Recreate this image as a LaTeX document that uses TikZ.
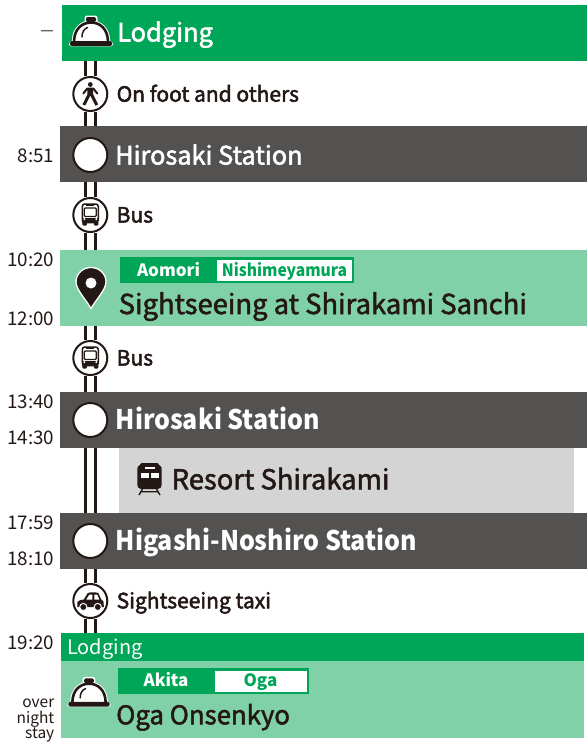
\documentclass[tikz,border=0pt]{standalone}
\usepackage{fontspec}
\setmainfont{Noto Sans CJK JP}
\newcommand{\emb}[2]{\special{pdf:code 2 Tr #1 w}#2\special{pdf:code 0 Tr 0.4 w}}
\newcommand{\med}[1]{\emb{0.5}{#1}}
\definecolor{ink}{HTML}{231815}
\definecolor{gr}{HTML}{00A657}
\definecolor{lgr}{HTML}{80D1A8}
\definecolor{dk}{HTML}{535251}
\definecolor{lg}{HTML}{D4D4D4}
\tikzset{
  band/.style={anchor=north west,inner sep=0pt,outer sep=0pt,draw=none},
  stopc/.style={circle,draw=ink,line width=2pt,fill=white,minimum size=34pt,inner sep=0pt,outer sep=1pt},
  rail/.style={draw=ink,line width=3pt,double=white,double distance=7.2pt},
  tm/.style={anchor=base east,inner sep=0pt,text=ink,font=\fontsize{18.8}{19}\selectfont},
  tms/.style={tm,font=\fontsize{15.5}{16}\selectfont},
  lbl/.style={anchor=base west,inner sep=0pt,text=ink,font=\fontsize{21}{22}\selectfont},
  big/.style={anchor=base west,inner sep=0pt,text=ink,font=\fontsize{27.4}{28}\selectfont},
  wtxt/.style={anchor=base west,inner sep=0pt,text=white},
  heavyt/.style={wtxt,xscale=0.927,font=\bfseries\fontsize{27}{28}\selectfont},
  tagt/.style={anchor=base,inner sep=0pt,font=\bfseries\fontsize{17}{18}\selectfont},
  icn/.style={fill=ink,draw=none}
}
\newcommand{\bellicon}[3]{%
\begin{scope}[shift={(#1,#2)},scale=#3]
 \path[draw=white,line width=4.5pt,line join=round,fill=white] (-20,12) -- (-17,10) .. controls (-17,-3) and (-9,-9.5) .. (0,-9.5) .. controls (9,-9.5) and (17,-3) .. (17,10) -- (20,12) -- (-20,12) -- cycle;
 \fill[white,rounded corners=2.5pt] (-6.5,-16.5) rectangle (6.5,-8);
 \fill[ink,rounded corners=2pt] (-5,-15) rectangle (5,-10);
 \draw[ink,line width=2.6pt,fill=white] (-17,10) .. controls (-17,-3) and (-9,-9.5) .. (0,-9.5) .. controls (9,-9.5) and (17,-3) .. (17,10);
 \fill[ink,rounded corners=2pt] (-21,9) rectangle (21,14);
 \draw[ink,line width=1.5pt,line cap=round] (-9,5) .. controls (-9,0) and (-7,-3) .. (-3.5,-4.5);
\end{scope}}
\newcommand{\busicon}[2]{%
\begin{scope}[shift={(#1,#2)}]
 \draw[ink,line width=1.5pt,rounded corners=2.5pt,fill=white] (-8,-10.5) rectangle (8,8);
 \draw[ink,line width=1.3pt,rounded corners=1pt] (-6,-6.5) rectangle (6,2);
 \fill[ink] (-8,3) rectangle (8,8);
 \fill[ink,rounded corners=1pt] (-8,7) rectangle (-3.5,11);
 \fill[ink,rounded corners=1pt] (3.5,7) rectangle (8,11);
 \fill[white] (-6,4.6) circle (1.1) (6,4.6) circle (1.1);
 \fill[ink] (-4,-9.6) rectangle (4,-8.4);
\end{scope}}
\begin{document}
\begin{tikzpicture}[x=1pt,y=-1pt]
\useasboundingbox (0,0) rectangle (587,744);
\fill[white] (0,0) rectangle (587,744);
% bands
\node[band,fill=gr,minimum width=525pt,minimum height=56pt] (lodgeA) at (62,5) {};
\node[band,fill=dk,minimum width=527pt,minimum height=56pt] (hiroA) at (60,126) {};
\node[band,fill=lgr,minimum width=527pt,minimum height=76pt] (sight) at (60,250) {};
\node[band,fill=dk,minimum width=527pt,minimum height=56pt] (hiroB) at (60,392) {};
\node[band,fill=lg,minimum width=455pt,minimum height=65pt] (resort) at (119,448) {};
\node[band,fill=dk,minimum width=527pt,minimum height=56pt] (higa) at (60,513) {};
\node[band,fill=gr,minimum width=523pt,minimum height=28pt] (lodgeB) at (61,633) {};
\node[band,fill=lgr,minimum width=523pt,minimum height=77pt] (oga) at (61,661) {};
% stops and mode circles
\node[stopc] (foot) at (90.3,94) {};
\node[stopc] (stA) at (90.3,155) {};
\node[stopc] (busA) at (90.3,215) {};
\node[stopc] (busB) at (90.3,358) {};
\node[stopc] (stB) at (90.3,420) {};
\node[stopc] (stC) at (90.3,541) {};
\node[stopc] (taxi) at (90.3,601) {};
% rails
\draw[rail] (foot.north |- lodgeA.south) -- (foot.north);
\draw[rail] (foot.south) -- (foot.south |- hiroA.north);
\draw[rail] (busA.north |- hiroA.south) -- (busA.north);
\draw[rail] (busA.south) -- (busA.south |- sight.north);
\draw[rail] (busB.north |- sight.south) -- (busB.north);
\draw[rail] (busB.south) -- (busB.south |- hiroB.north);
\draw[rail] (stB.south |- hiroB.south) -- (stC.north |- higa.north);
\draw[rail] (taxi.north |- higa.south) -- (taxi.north);
\draw[rail] (taxi.south) -- (taxi.south |- lodgeB.north);
% icons
\bellicon{91}{32}{1}
\bellicon{89}{693}{0.98}
\begin{scope}[shift={(90.3,94)}]
 \fill[ink] (0,-9.5) circle (2.4);
 \draw[ink,line width=2pt,line cap=round,line join=round] (-7,-0.5) -- (-3,-5.5) -- (3,-5.5) -- (7,-0.5);
 \draw[ink,line width=3pt,line join=round] (-6.5,11) -- (-1.4,1) -- (-1.4,-5.5) (1.4,-5.5) -- (1.4,1) -- (6.5,11);
\end{scope}
\busicon{90.3}{214.5}
\busicon{90.3}{357.5}
\begin{scope}[shift={(90.3,601)}]
 \fill[ink] (-13,6) -- (-13,1) .. controls (-12,-1) and (-9,-1) .. (-6.5,-1.5) -- (-2.5,-8) .. controls (0,-9) and (5,-9) .. (8,-8) -- (11,-1.5) .. controls (13,-1) and (13.5,0) .. (13.5,6) -- cycle;
 \fill[white] (-4,-1.5) -- (-1,-6.3) -- (2,-6.3) -- (2,-1.5) -- cycle;
 \fill[white] (4,-1.5) -- (4,-6.3) -- (7,-6.3) -- (9,-1.5) -- cycle;
 \draw[ink,fill=ink,line width=1pt,draw=white] (-7,6) circle (3.6) (7.5,6) circle (3.6);
\end{scope}
\begin{scope}[shift={(91,283)}]
 \path[fill=ink,draw=white,line width=1.3pt,line join=round] (0,25.8) .. controls (-3,19) and (-15,7) .. (-15,-1) .. controls (-15,-9.5) and (-8,-15.5) .. (0,-15.5) .. controls (8,-15.5) and (15,-9.5) .. (15,-1) .. controls (15,7) and (3,19) .. (0,25.8) -- cycle;
 \fill[white] (0,0) circle (5.5);
\end{scope}
\begin{scope}[shift={(149.5,479)}]
 \fill[ink,rounded corners=4pt] (-12.2,-14) rectangle (12.2,10);
 \fill[ink] (-8,-16) -- (8,-16) -- (12.2,-11) -- (-12.2,-11) -- cycle;
 \fill[white] (-5,-12.3) rectangle (5,-10);
 \fill[white] (-8.8,-6.3) rectangle (-0.3,-1);
 \fill[white] (1.2,-6.3) rectangle (9.8,-1);
 \draw[ink,line width=1.4pt] (-7,10) -- (-10.5,16) (7,10) -- (10.5,16) (-8.5,12.7) -- (8.5,12.7);
\end{scope}
% tags
\fill[gr] (120,257) rectangle (354,283);
\fill[white] (217,259.5) rectangle (352,280.5);
\node[tagt,text=white] (tagA) at (168.5,276) {Aomori};
\node[tagt,text=gr,xscale=0.92] (tagB) at (284.5,276) {Nishimeyamura};
\fill[gr] (118,668) rectangle (309,694);
\fill[white] (215,670.5) rectangle (306.5,691.5);
\node[tagt,text=white] (tagC) at (166,686.7) {Akita};
\node[tagt,text=gr] (tagD) at (260.5,686.7) {Oga};
% texts
\node[wtxt,font=\fontsize{25.4}{28}\selectfont] (tLodge) at (117,41.5) {\med{Lodging}};
\node[lbl] (tFoot) at (116.5,101.7) {\med{On foot and others}};
\node[wtxt,font=\fontsize{25.3}{28}\selectfont] (tHiroA) at (115,164.5) {\med{Hirosaki Station}};
\node[lbl] (tBusA) at (116.5,222.5) {\med{Bus}};
\node[big] (tSight) at (118.5,314) {\med{Sightseeing at Shirakami Sanchi}};
\node[lbl] (tBusB) at (116.5,365.5) {\med{Bus}};
\node[heavyt] (tHiroB) at (115.5,429.3) {Hirosaki Station};
\node[big] (tResort) at (171.5,489.3) {\med{Resort Shirakami}};
\node[heavyt] (tHiga) at (115.5,550.3) {Higashi-Noshiro Station};
\node[lbl] (tTaxi) at (116.5,608.3) {\med{Sightseeing taxi}};
\node[wtxt,font=\fontsize{20}{22}\selectfont] (tLodgeB) at (67,654) {Lodging};
\node[big,font=\fontsize{25.8}{28}\selectfont] (tOga) at (116,724.3) {\med{Oga Onsenkyo}};
% times
\node[anchor=east,inner sep=0pt,text=ink,font=\fontsize{15}{16}\selectfont] (t0) at (54,33.5) {—};
\node[tm] (t1) at (54.6,162.3) {8:51};
\node[tm] (t2) at (54.6,266) {10:20};
\node[tm] (t3) at (54.6,325) {12:00};
\node[tm] (t4) at (54.6,408.3) {13:40};
\node[tm] (t5) at (54.6,444) {14:30};
\node[tm] (t6) at (54.6,529) {17:59};
\node[tm] (t7) at (54.6,565) {18:10};
\node[tm] (t8) at (54.6,649) {19:20};
\node[tms] (t9) at (54.5,707) {over};
\node[tms] (t10) at (54.5,723) {night};
\node[tms] (t11) at (54.5,738) {stay};
\end{tikzpicture}
\end{document}
